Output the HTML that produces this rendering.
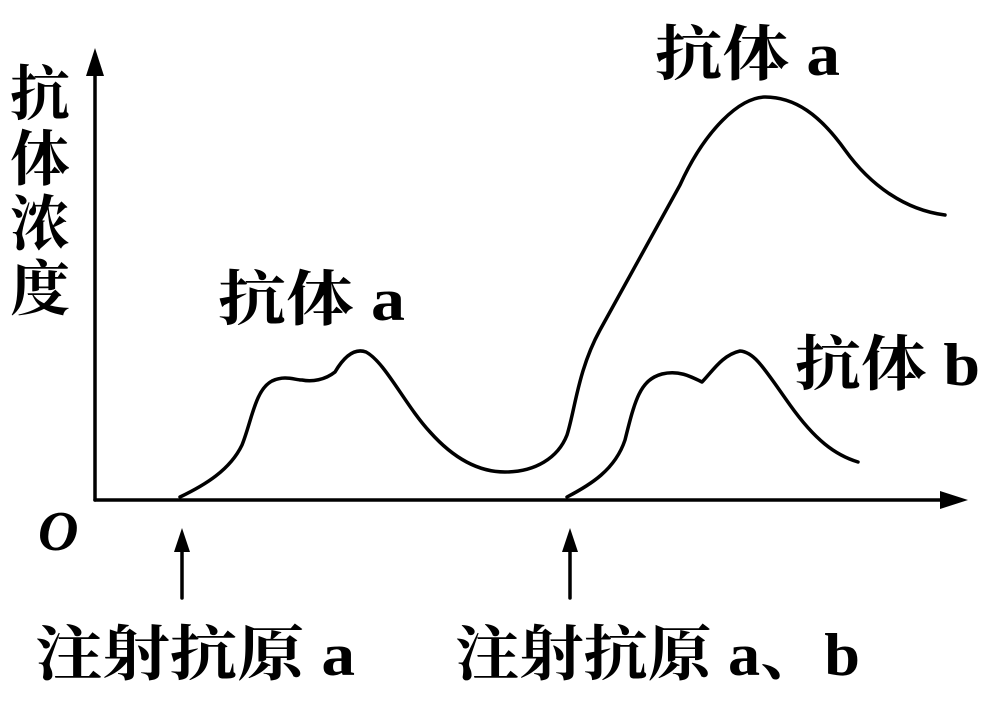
<!DOCTYPE html>
<html><head><meta charset="utf-8"><style>
html,body{margin:0;padding:0;background:#fff;}
svg{display:block}
text{font-family:"Liberation Serif","Noto Serif CJK SC",serif;font-weight:bold;fill:#000;}
</style></head><body>
<svg width="1000" height="709" viewBox="0 0 1000 709" xmlns="http://www.w3.org/2000/svg">
<g stroke="#000" stroke-width="3.5" fill="none" stroke-linecap="round" stroke-linejoin="round">
<line x1="95" y1="500" x2="95" y2="65"/>
<line x1="95" y1="500" x2="950" y2="500"/>
<line x1="182" y1="598" x2="182" y2="545"/>
<line x1="570" y1="598" x2="570" y2="545"/>
<path d="M180,497 C205,485 230,470 242,445 C252,420 255,390 272,381 C285,375 295,380 302,380 C312,382 325,380 335,372 C345,355 355,348 366,352 C385,362 405,405 430,432 C455,460 480,472 505,472 C535,472 558,458 567,435 C575,410 578,370 600,330 C625,285 650,240 680,185 C705,130 740,97 765,97 C795,97 820,115 845,150 C870,185 905,210 945,215"/>
<path d="M567,497 C590,485 615,470 625,440 C635,400 640,380 662,374 C678,370 690,376 702,382 C712,372 722,355 740,351 C755,352 765,370 790,405 C815,440 835,455 858,462"/>
</g>
<polygon points="95,48 86,76 104,76" fill="#000"/>
<polygon points="968,500 940,491 940,509" fill="#000"/>
<polygon points="182,528 174,552 190,552" fill="#000"/>
<polygon points="570,528 562,552 578,552" fill="#000"/>
<g font-size="60">
<text x="10" y="115">抗</text>
<text x="10" y="180">体</text>
<text x="10" y="245">浓</text>
<text x="10" y="310">度</text>
<text x="218" y="320" textLength="187" lengthAdjust="spacingAndGlyphs">抗体 a</text>
<text x="655" y="75" textLength="185" lengthAdjust="spacingAndGlyphs">抗体 a</text>
<text x="795" y="385" textLength="185" lengthAdjust="spacingAndGlyphs">抗体 b</text>
<text x="35" y="675" textLength="320" lengthAdjust="spacingAndGlyphs">注射抗原 a</text>
<text x="455" y="675" textLength="405" lengthAdjust="spacingAndGlyphs">注射抗原 a、b</text>
<text x="38" y="550" font-style="italic" font-size="56">O</text>
</g>
</svg>
</body></html>
